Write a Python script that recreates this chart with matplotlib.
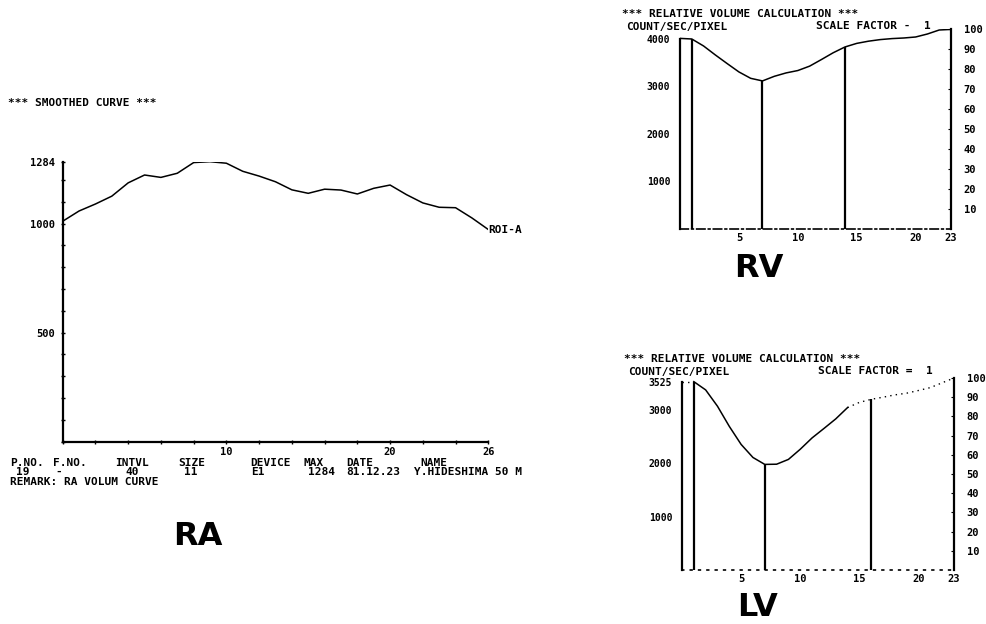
"""
Scintigraphic volume curves - RA smoothed curve and RV / LV relative volume
"""
import matplotlib
matplotlib.use('Agg')
import matplotlib.pyplot as plt
from matplotlib.ticker import MultipleLocator, FixedLocator

plt.rcParams['font.family'] = ['DejaVu Sans Mono']
plt.rcParams['font.weight'] = 'bold'
plt.rcParams['font.size'] = 8

W, H = 986, 624

# RA smoothed curve (frame 0..26)
ra_frames = list(range(27))
ra_counts = [1011, 1058, 1090, 1126, 1187, 1223, 1212, 1231, 1280, 1284,
             1277, 1240, 1218, 1192, 1155, 1139, 1158, 1154, 1136, 1162,
             1177, 1133, 1095, 1075, 1073, 1026, 973]
ra_yticks = [500, 1000, 1284]
ra_xticks = [10, 20, 26]

# RV relative volume (percent, frame 0..23)
rv_frames = list(range(24))
rv_pct = [95.3, 95.0, 91.5, 87.0, 82.7, 78.5, 75.3, 74.0, 76.3, 78.0,
          79.2, 81.4, 84.7, 88.1, 91.0, 92.8, 93.9, 94.7, 95.2, 95.5,
          96.0, 97.5, 99.5, 99.8]
rv_marks = [1, 7, 14]
rv_left_ticks = [1000, 2000, 3000, 4000]

# LV relative volume (percent, frame 0..23)
lv_frames = list(range(24))
lv_pct = [98.1, 98.1, 93.8, 85.3, 74.8, 65.4, 58.6, 55.0, 55.1, 57.6,
          62.9, 68.8, 73.7, 78.7, 84.6, 87.3, 88.9, 90.0, 91.2, 92.1,
          93.5, 95.0, 97.5, 100.0]
lv_marks = [1, 7, 16]
lv_left_ticks = [1000, 2000, 3000, 3525]

pct_ticks = list(range(10, 101, 10))
vol_xticks = [5, 10, 15, 20, 23]


def px_rect(left, top, right, bottom):
    return [left / W, 1 - bottom / H, (right - left) / W, (bottom - top) / H]


def ftext(x, y, s, **kw):
    fig.text(x / W, 1 - y / H, s, va='center', **kw)


fig = plt.figure(figsize=(W / 100, H / 100), dpi=100)

# ---------------- RA ----------------
ax = fig.add_axes(px_rect(62.7, 161.7, 488.3, 441.7))
ax.plot(ra_frames, ra_counts, color='black', lw=1.1)
ax.set_xlim(0, 26)
ax.set_ylim(0, 1284)
for s in ['top', 'right']:
    ax.spines[s].set_visible(False)
for s in ['left', 'bottom']:
    ax.spines[s].set_linewidth(1.6)
ax.yaxis.set_major_locator(FixedLocator(ra_yticks))
ax.yaxis.set_minor_locator(MultipleLocator(100))
ax.xaxis.set_major_locator(FixedLocator(ra_xticks))
ax.xaxis.set_minor_locator(MultipleLocator(2))
ax.tick_params(which='both', direction='inout', length=3, width=1)
ax.tick_params(axis='y', pad=4, labelsize=7.5)
ax.tick_params(axis='x', pad=2, labelsize=7.5)
ax.text(26, ra_counts[-1], 'ROI-A', fontsize=8, ha='left', va='center')

ftext(8, 103, '*** SMOOTHED CURVE ***', fontsize=8)
row1 = [(10, 'P.NO.'), (53, 'F.NO.'), (115, 'INTVL'), (178, 'SIZE'),
        (250, 'DEVICE'), (303, 'MAX'), (346, 'DATE'), (420, 'NAME')]
row2 = [(16, '19'), (55, '-'), (125, '40'), (184, '11'), (251, 'E1'),
        (308, '1284'), (346, '81.12.23'), (414, 'Y.HIDESHIMA 50 M')]
for x, s in row1:
    ftext(x, 463, s, fontsize=8)
for x, s in row2:
    ftext(x, 472, s, fontsize=8)
ftext(10, 482, 'REMARK: RA VOLUM CURVE', fontsize=8)


# ---------------- RV / LV ----------------
def volume_panel(rect, frames, pct, marks, left_top, left_max, left_ticks,
                 bottom_style, title_y, scale_txt, dotted_from=None):
    axl = fig.add_axes(rect)
    axr = axl.twinx()
    axl.set_xlim(0, 23)
    axl.set_ylim(0, left_max)
    axr.set_ylim(0, 100)
    for a in (axl, axr):
        a.spines['top'].set_visible(False)
    axl.spines['right'].set_visible(False)
    axr.spines['left'].set_visible(False)
    axr.spines['bottom'].set_visible(False)
    axl.spines['left'].set_linewidth(1.6)
    axl.spines['left'].set_bounds(0, left_top)
    axr.spines['right'].set_linewidth(1.6)
    axl.spines['bottom'].set_linewidth(1.2)
    axl.spines['bottom'].set_linestyle(bottom_style)

    if dotted_from is None:
        axr.plot(frames, pct, color='black', lw=1.1)
    else:
        axr.plot(frames[:2], pct[:2], color='black', lw=1.0, ls=(0, (1, 3)))
        axr.plot(frames[1:dotted_from + 1], pct[1:dotted_from + 1],
                 color='black', lw=1.1)
        axr.plot(frames[dotted_from:], pct[dotted_from:], color='black',
                 lw=1.0, ls=(0, (1, 3)))
    axr.vlines(marks, 0, [pct[m] for m in marks], color='black', lw=1.6)

    axl.yaxis.set_major_locator(FixedLocator(left_ticks))
    axl.xaxis.set_major_locator(FixedLocator(vol_xticks))
    axr.yaxis.set_major_locator(FixedLocator(pct_ticks))
    axl.tick_params(axis='y', length=0, pad=7, labelsize=7)
    axl.tick_params(axis='x', length=0, pad=3, labelsize=7.5)
    axr.tick_params(axis='y', length=2, direction='in', pad=9, labelsize=7.5)

    l = rect[0] * W
    ftext(l - 58, title_y, '*** RELATIVE VOLUME CALCULATION ***', fontsize=8)
    ftext(l - 54, title_y + 13, 'COUNT/SEC/PIXEL', fontsize=8)
    ftext(l + 136, title_y + 12, scale_txt, fontsize=8)
    return axl


volume_panel(px_rect(680, 29, 951, 228.7), rv_frames, rv_pct, rv_marks,
             4000, 4200, rv_left_ticks, (0, (5, 2, 1, 2)), 14,
             'SCALE FACTOR -  1')
volume_panel(px_rect(682, 378, 954, 570), lv_frames, lv_pct, lv_marks,
             3525, 3600, lv_left_ticks, (0, (1, 4)), 359,
             'SCALE FACTOR =  1', dotted_from=14)

# big panel labels
for x, y, s in [(198, 545, 'RA'), (759, 277, 'RV'), (758, 616, 'LV')]:
    fig.text(x / W, 1 - y / H, s, fontsize=23, family='DejaVu Sans',
             weight='bold', ha='center', va='baseline')

fig.savefig('out.png', dpi=100)
